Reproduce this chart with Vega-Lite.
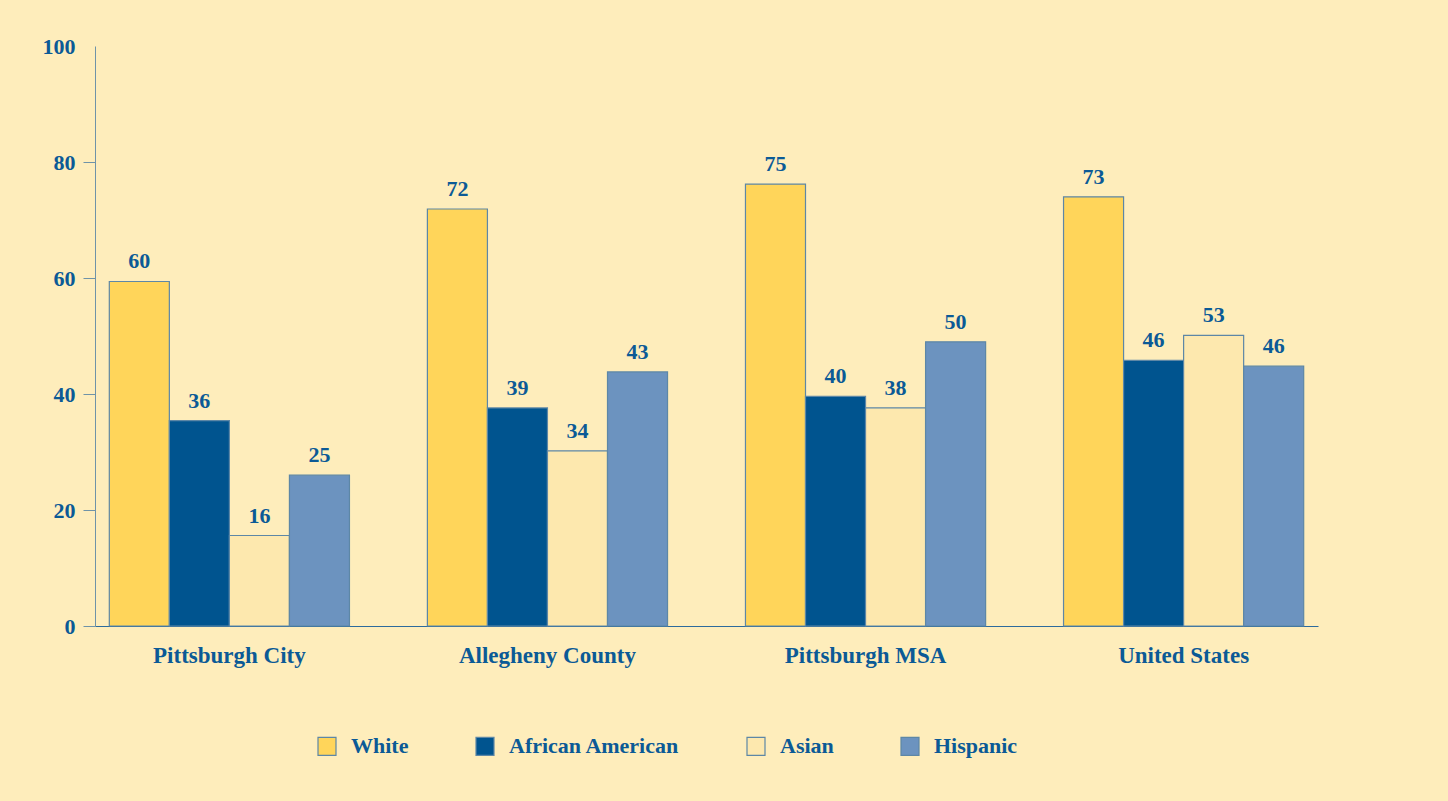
{
  "$schema": "https://vega.github.io/schema/vega-lite/v6.json",
  "width": 1223,
  "height": 580,
  "autosize": {"type": "none"},
  "padding": {"left": 95, "top": 46, "right": 130, "bottom": 175},
  "background": "#FEEDBB",
  "config": {"view": {"stroke": null}, "font": "Liberation Serif"},
  "data": {
    "values": [
      {"region": "Pittsburgh City", "group": "White", "value": 59.4, "label": "60"},
      {"region": "Pittsburgh City", "group": "African American", "value": 35.4, "label": "36"},
      {"region": "Pittsburgh City", "group": "Asian", "value": 15.6, "label": "16"},
      {"region": "Pittsburgh City", "group": "Hispanic", "value": 26.0, "label": "25"},
      {"region": "Allegheny County", "group": "White", "value": 71.9, "label": "72"},
      {"region": "Allegheny County", "group": "African American", "value": 37.6, "label": "39"},
      {"region": "Allegheny County", "group": "Asian", "value": 30.2, "label": "34"},
      {"region": "Allegheny County", "group": "Hispanic", "value": 43.8, "label": "43"},
      {"region": "Pittsburgh MSA", "group": "White", "value": 76.2, "label": "75"},
      {"region": "Pittsburgh MSA", "group": "African American", "value": 39.6, "label": "40"},
      {"region": "Pittsburgh MSA", "group": "Asian", "value": 37.6, "label": "38"},
      {"region": "Pittsburgh MSA", "group": "Hispanic", "value": 49.0, "label": "50"},
      {"region": "United States", "group": "White", "value": 74.0, "label": "73"},
      {"region": "United States", "group": "African American", "value": 45.8, "label": "46"},
      {"region": "United States", "group": "Asian", "value": 50.1, "label": "53"},
      {"region": "United States", "group": "Hispanic", "value": 44.8, "label": "46"}
    ]
  },
  "encoding": {
    "x": {
      "field": "region",
      "type": "nominal",
      "sort": ["Pittsburgh City", "Allegheny County", "Pittsburgh MSA", "United States"],
      "scale": {"paddingInner": 0.245, "paddingOuter": 0.045},
      "axis": {
        "title": null,
        "labelAngle": 0,
        "ticks": false,
        "domainColor": "#2d6b9c",
        "domainWidth": 1,
        "labelPadding": 18,
        "labelFontSize": 23,
        "labelFontWeight": "bold",
        "labelColor": "#0B5A96",
        "labelLimit": 0
      }
    },
    "xOffset": {
      "field": "group",
      "type": "nominal",
      "sort": ["White", "African American", "Asian", "Hispanic"],
      "scale": {"paddingInner": 0, "paddingOuter": 0}
    },
    "y": {
      "field": "value",
      "type": "quantitative",
      "scale": {"domain": [0, 100], "nice": false},
      "axis": {
        "title": null,
        "values": [0, 20, 40, 60, 80, 100],
        "grid": false,
        "tickSize": 12,
        "tickColor": "#6f93a8",
        "tickOpacity": {"condition": {"test": "datum.value == 100", "value": 0}, "value": 1},
        "domainColor": "#6f93a8",
        "labelPadding": 8,
        "labelFontSize": 22,
        "labelFontWeight": "bold",
        "labelColor": "#0B5A96"
      }
    }
  },
  "layer": [
    {
      "mark": {"type": "bar", "stroke": "#5d87a6", "strokeWidth": 1.2},
      "encoding": {
        "color": {
          "field": "group",
          "type": "nominal",
          "scale": {
            "domain": ["White", "African American", "Asian", "Hispanic"],
            "range": ["#FFD55A", "#00548F", "#FDE8AE", "#6C93BF"]
          },
          "legend": {
            "title": null,
            "orient": "none",
            "legendX": 221,
            "legendY": 689,
            "direction": "horizontal",
            "symbolType": "square",
            "symbolSize": 324,
            "symbolStrokeColor": "#5d87a6",
            "symbolStrokeWidth": 1.2,
            "symbolOpacity": 1,
            "labelFontSize": 22,
            "labelFontWeight": "bold",
            "labelColor": "#0B5A96",
            "labelOffset": 13,
            "labelLimit": 0,
            "columnPadding": 64
          }
        }
      }
    },
    {
      "mark": {"type": "text", "dy": -13, "baseline": "alphabetic", "fontSize": 22, "fontWeight": "bold", "color": "#0B5A96"},
      "encoding": {"text": {"field": "label"}}
    }
  ]
}
